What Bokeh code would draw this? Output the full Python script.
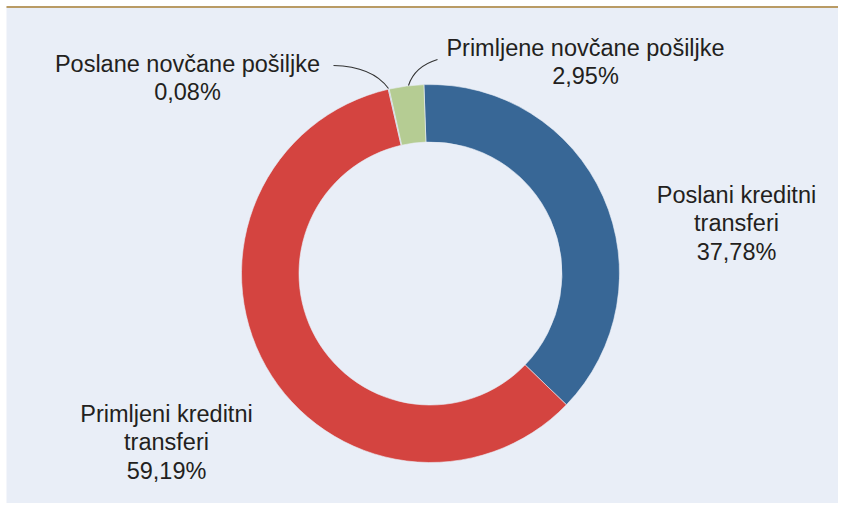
import math
from bokeh.plotting import figure
from bokeh.models import Range1d
from bokeh.core.properties import value
from bokeh.embed import file_html
from bokeh.resources import INLINE

# ---- data ----
categories = ["Poslani kreditni transferi", "Primljeni kreditni transferi",
              "Poslane novčane pošiljke", "Primljene novčane pošiljke"]
shares = [37.78, 59.19, 0.08, 2.95]
pct_labels = ["37,78%", "59,19%", "0,08%", "2,95%"]
name_lines = [["Poslani kreditni", "transferi"],
              ["Primljeni kreditni", "transferi"],
              ["Poslane novčane pošiljke"],
              ["Primljene novčane pošiljke"]]
colors = ["#386796", "#d44440", "#9aa8c0", "#b5cc93"]

# ---- layout (data units == screen px; y measured from top) ----
W, H = 838, 503
BG = "#e9eef7"


def Y(py):
    return H - py


cx, cy = 430, Y(273)          # donut centre
r_in, r_out = 131.5, 189
start_deg = 92.0

# label anchors (x centre, y of first line)
label_pos = [(736, 194), (166, 413), (187, 63), (585, 47)]
line_gap = 28.6

p = figure(width=W, height=H, output_backend="svg", toolbar_location=None,
           x_range=Range1d(0, W), y_range=Range1d(0, H),
           min_border=0, outline_line_color=None)
p.axis.visible = False
p.grid.visible = False
p.background_fill_color = "white"
p.border_fill_color = "white"

# panel + top rule
p.quad(left=6, right=W, bottom=0, top=Y(6), fill_color=BG, line_color=None)
p.line([6, W], [Y(6.5), Y(6.5)], line_color="#b99b64", line_width=2)

# wedges
total = sum(shares)
starts, ends = [], []
a = math.radians(start_deg)
for s in shares:
    span = s / total * 2 * math.pi
    starts.append(a)
    ends.append(a - span)
    a -= span
p.annular_wedge(x=[cx] * len(shares), y=[cy] * len(shares),
                inner_radius=r_in, outer_radius=r_out,
                inner_radius_units="screen", outer_radius_units="screen",
                start_angle=starts, end_angle=ends, direction="clock",
                fill_color=colors, line_color=BG, line_width=0.6)

# labels
xs, ys, ts = [], [], []
for (lx, ly), nl, pc in zip(label_pos, name_lines, pct_labels):
    lines = nl + [pc]
    for i, t in enumerate(lines):
        xs.append(lx)
        ys.append(Y(ly + i * line_gap))
        ts.append(t)
p.text(x=xs, y=ys, text=ts, text_align="center", text_baseline="middle",
       text_font=value("Liberation Sans"), text_font_size="23.5px",
       text_color="#231f20")

# leader lines
p.quadratic(x0=[333, 437], y0=[Y(65), Y(59)],
            x1=[388, 408], y1=[Y(88), Y(85)],
            cx=[372, 414], cy=[Y(66), Y(66)],
            line_color="#333333", line_width=1.1)

open("out.html", "w").write(file_html(p, INLINE))
